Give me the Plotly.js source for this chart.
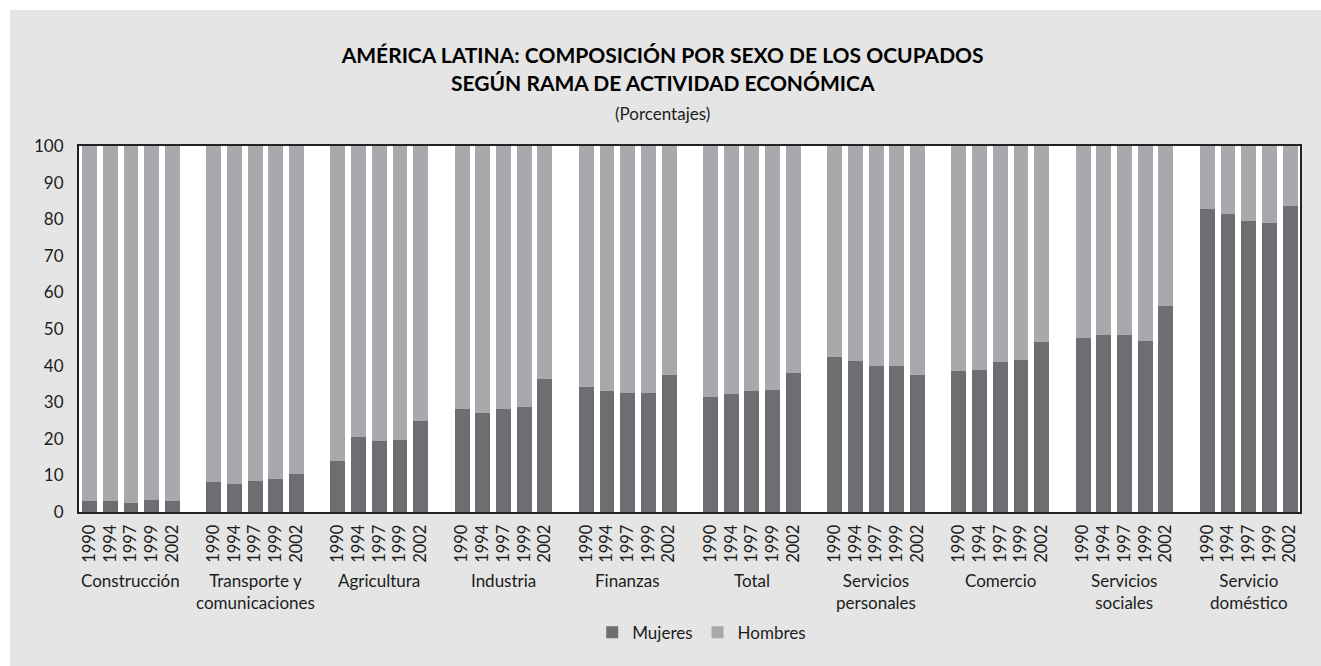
<!DOCTYPE html>
<html>
<head>
<meta charset="utf-8">
<script src="https://cdn.plot.ly/plotly-3.0.1.min.js"></script>
<style>
  html, body { margin: 0; padding: 0; background: #ffffff; }
  #chart { position: absolute; left: 10px; top: 10px; width: 1311px; height: 656px; }
</style>
</head>
<body>
<div id="chart"></div>
<script>
// ---- data ----
const categories = ['Construcción', 'Transporte y<br>comunicaciones', 'Agricultura', 'Industria', 'Finanzas',
  'Total', 'Servicios<br>personales', 'Comercio', 'Servicios<br>sociales', 'Servicio<br>doméstico'];
const years = ['1990', '1994', '1997', '1999', '2002'];

const mujeresConstruccion = [3.0, 3.0, 2.4, 3.3, 3.0];
const mujeresTransporte   = [8.1, 7.6, 8.4, 8.9, 10.5];
const mujeresAgricultura  = [14.0, 20.6, 19.3, 19.7, 24.9];
const mujeresIndustria    = [28.2, 27.1, 28.2, 28.7, 36.4];
const mujeresFinanzas     = [34.2, 33.1, 32.6, 32.6, 37.5];
const mujeresTotal        = [31.5, 32.3, 33.1, 33.4, 38.0];
const mujeresPersonales   = [42.4, 41.2, 40.0, 40.0, 37.3];
const mujeresComercio     = [38.4, 38.7, 40.9, 41.4, 46.5];
const mujeresSociales     = [47.6, 48.4, 48.4, 46.8, 56.4];
const mujeresDomestico    = [82.8, 81.4, 79.5, 79.0, 83.6];

const hombresConstruccion = [97.0, 97.0, 97.6, 96.7, 97.0];
const hombresTransporte   = [91.9, 92.4, 91.6, 91.1, 89.5];
const hombresAgricultura  = [86.0, 79.4, 80.7, 80.3, 75.1];
const hombresIndustria    = [71.8, 72.9, 71.8, 71.3, 63.6];
const hombresFinanzas     = [65.8, 66.9, 67.4, 67.4, 62.5];
const hombresTotal        = [68.5, 67.7, 66.9, 66.6, 62.0];
const hombresPersonales   = [57.6, 58.8, 60.0, 60.0, 62.7];
const hombresComercio     = [61.6, 61.3, 59.1, 58.6, 53.5];
const hombresSociales     = [52.4, 51.6, 51.6, 53.2, 43.6];
const hombresDomestico    = [17.2, 18.6, 20.5, 21.0, 16.4];

const mujeresGroups = [mujeresConstruccion, mujeresTransporte, mujeresAgricultura, mujeresIndustria,
  mujeresFinanzas, mujeresTotal, mujeresPersonales, mujeresComercio, mujeresSociales, mujeresDomestico];
const hombresGroups = [hombresConstruccion, hombresTransporte, hombresAgricultura, hombresIndustria,
  hombresFinanzas, hombresTotal, hombresPersonales, hombresComercio, hombresSociales, hombresDomestico];

// ---- build positions: 5 bars per group, one empty slot between groups ----
const SLOTS = years.length + 1;
const xs = [], tickText = [], mujeres = [], hombres = [];
mujeresGroups.forEach((grp, g) => {
  grp.forEach((v, i) => {
    xs.push(g * SLOTS + i);
    tickText.push(years[i]);
    mujeres.push(v);
    hombres.push(hombresGroups[g][i]);
  });
});

const FONT = 'Lato, "Open Sans", sans-serif';
const TXT = '#1c1c1c';
const BG = '#e5e5e5';

const traces = [
  { type: 'bar', name: 'Mujeres', x: xs, y: mujeres, width: 0.72,
    marker: { color: '#6d6e72', line: { width: 0 } } },
  { type: 'bar', name: 'Hombres', x: xs, y: hombres, width: 0.72,
    marker: { color: '#a8a9ad', line: { width: 0 } } }
];

const annotations = categories.map((c, g) => ({
  text: c, xref: 'x', yref: 'paper', x: g * SLOTS + 2, y: 0,
  yanchor: 'top', xanchor: 'center', yshift: -56, showarrow: false,
  font: { family: FONT, size: 17, color: TXT }
}));
annotations.push({
  text: '<b>SEGÚN RAMA DE ACTIVIDAD ECONÓMICA</b>', xref: 'paper', yref: 'paper',
  x: 0.478, y: 1, yshift: 64, xanchor: 'center', yanchor: 'middle', showarrow: false,
  font: { family: FONT, size: 21, color: '#000' }
});
annotations.push({
  text: '(Porcentajes)', xref: 'paper', yref: 'paper',
  x: 0.478, y: 1, yshift: 33, xanchor: 'center', yanchor: 'middle', showarrow: false,
  font: { family: FONT, size: 17, color: TXT }
});

const layout = {
  width: 1311, height: 656,
  paper_bgcolor: BG, plot_bgcolor: '#ffffff',
  margin: { l: 69, r: 21, t: 136, b: 154 },
  barmode: 'stack',
  title: {
    text: '<b>AMÉRICA LATINA: COMPOSICIÓN POR SEXO DE LOS OCUPADOS</b>',
    x: 0.478, xref: 'paper', xanchor: 'center',
    y: 0.93, yref: 'container', yanchor: 'middle',
    font: { family: FONT, size: 21, color: '#000' }
  },
  xaxis: {
    range: [-0.51, 58.48], tickmode: 'array', tickvals: xs, ticktext: tickText,
    tickangle: -90, ticks: '', showgrid: false, zeroline: false,
    showline: true, mirror: true, linecolor: '#222', linewidth: 2,
    tickfont: { family: FONT, size: 16.5, color: TXT }, ticklabelstandoff: 4
  },
  yaxis: {
    range: [0, 100], tickmode: 'array', tickvals: [0,10,20,30,40,50,60,70,80,90,100],
    ticks: '', showgrid: false, zeroline: false,
    showline: true, mirror: true, linecolor: '#222', linewidth: 2,
    tickfont: { family: FONT, size: 17, color: TXT }, ticklabelstandoff: 10
  },
  showlegend: true,
  legend: {
    orientation: 'h', x: 0.51, xanchor: 'center', y: -0.33, yanchor: 'middle',
    font: { family: FONT, size: 17, color: TXT }, bgcolor: 'rgba(0,0,0,0)',
    traceorder: 'normal', itemwidth: 30
  },
  annotations: annotations
};
Plotly.newPlot('chart', traces, layout, { displayModeBar: false, staticPlot: true });
</script>
</body>
</html>
